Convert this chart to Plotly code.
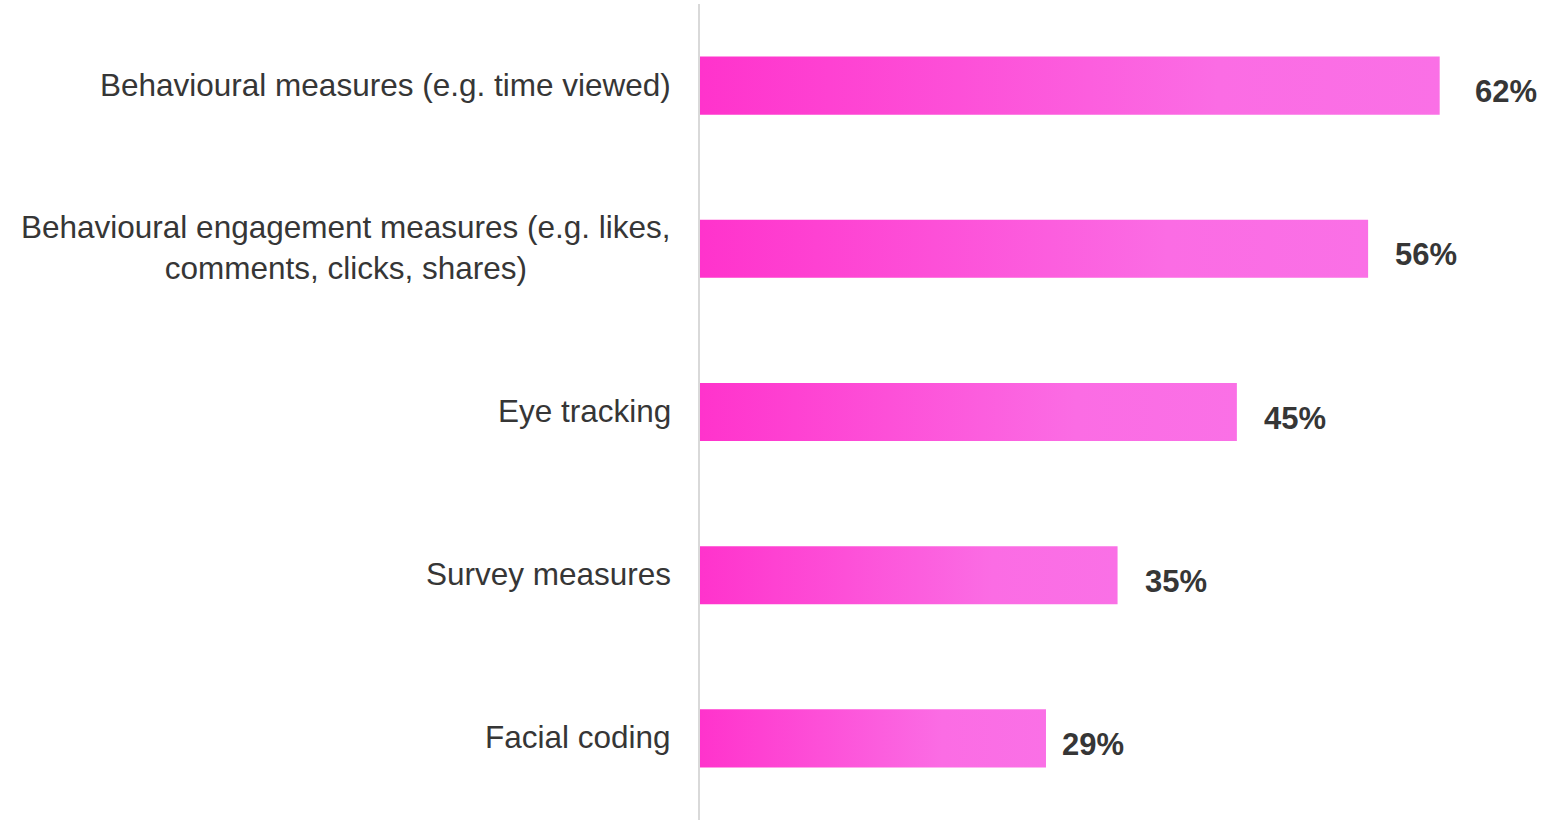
import plotly.graph_objects as go

categories = [
    "Behavioural measures (e.g. time viewed)",
    "Behavioural engagement measures (e.g. likes,<br>comments, clicks, shares)",
    "Eye tracking",
    "Survey measures",
    "Facial coding",
]
values = [62, 56, 45, 35, 29]
value_labels = ["62%", "56%", "45%", "35%", "29%"]

# horizontal gap (px) between each bar end and its value label
label_gaps = [35, 27, 27, 27, 16]

BAR_HALF = 0.178
FONT = "Arial"
TEXT_COLOR = "#363636"

fig = go.Figure()

# Each bar is a filled rectangle with a horizontal pink gradient
for i, v in enumerate(values):
    fig.add_trace(go.Scatter(
        x=[0, v, v, 0, 0],
        y=[i - BAR_HALF, i - BAR_HALF, i + BAR_HALF, i + BAR_HALF, i - BAR_HALF],
        mode="lines",
        line=dict(width=0),
        fill="toself",
        fillgradient=dict(
            type="horizontal",
            colorscale=[[0, "#FF33CC"], [0.7, "#FB6CE4"], [1, "#FA70E6"]],
        ),
        hoverinfo="skip",
        showlegend=False,
    ))

annotations = []
for i, (cat, v, lab, gap) in enumerate(zip(categories, values, value_labels, label_gaps)):
    annotations.append(dict(
        x=0, xref="paper", xanchor="right", xshift=-27,
        y=i, yref="y", yanchor="middle", yshift=1,
        text=cat, showarrow=False, align="center",
        font=dict(family=FONT, size=31.5, color=TEXT_COLOR),
    ))
    annotations.append(dict(
        x=v, xref="x", xanchor="left", xshift=gap - 2,
        y=i, yref="y", yanchor="middle", yshift=-6,
        text=f"<b>{lab}</b>", showarrow=False,
        font=dict(family=FONT, size=31, color=TEXT_COLOR),
    ))

fig.update_layout(
    width=1565, height=820,
    margin=dict(l=700, r=6, t=4, b=0),
    paper_bgcolor="white", plot_bgcolor="white",
    xaxis=dict(range=[0, 72], visible=False, fixedrange=True),
    yaxis=dict(range=[4.5, -0.5], showticklabels=False, showgrid=False,
               zeroline=False, showline=True, linecolor="#D9D9D9", linewidth=2,
               ticks="", fixedrange=True),
    annotations=annotations,
)

fig.write_html("out.html")
